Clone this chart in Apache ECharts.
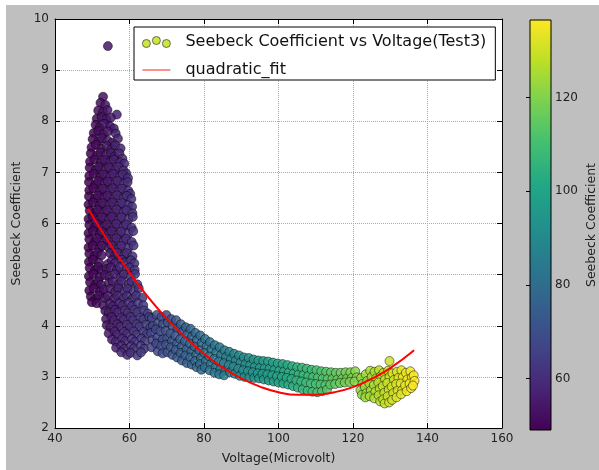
<!DOCTYPE html>
<html><head><meta charset="utf-8">
<script src="https://cdn.jsdelivr.net/npm/echarts@6/dist/echarts.min.js"></script>
<style>
html,body{margin:0;padding:0;background:#fff;}
#bg{position:absolute;left:6px;top:5px;width:593px;height:465px;background:#bfbfbf;}
#c{position:absolute;left:0;top:0;width:599px;height:470px;}
</style>
</head><body><div id="bg"></div><div id="c"></div>
<script>
// ---- data ----
const seriesScatterName = 'Seebeck Coefficient vs Voltage(Test3)';
const seriesFitName = 'quadratic_fit';
const xAxisTitle = 'Voltage(Microvolt)';
const yAxisTitle = 'Seebeck Coefficient';
const colorbarTitle = 'Seebeck Coefficient';
const colorbarRange = [49, 136.6];

// left (low-voltage) dense cluster: [voltage, seebeck]
const leftCluster = [
[54.2,9.47],
[52.9,8.48],[52.2,8.36],[53.5,8.32],[51.6,8.21],[52.9,8.18],[54.1,8.22],[56.6,8.13],
[51.2,8.05],[52.5,8.08],[53.8,8.04],[55.0,8.07],
[50.9,7.93],[52.0,7.88],[53.3,7.95],[54.8,7.90],[55.8,7.86],
[50.4,7.77],[51.6,7.81],[53.0,7.75],[54.2,7.80],[56.3,7.76],
[50.1,7.65],[51.7,7.61],[52.6,7.67],[54.2,7.62],[55.4,7.58],[56.9,7.66],
[49.8,7.49],[51.0,7.54],[52.4,7.46],[53.9,7.52],[55.1,7.45],[56.2,7.53],[57.6,7.47],
[49.6,7.37],[51.2,7.33],[52.2,7.39],[53.7,7.34],[55.0,7.38],[56.0,7.31],[57.3,7.37],[58.1,7.27],
[49.4,7.21],[50.6,7.25],[52.3,7.19],[53.3,7.24],[54.8,7.20],[55.8,7.25],[57.4,7.19],[58.6,7.17],
[49.3,7.09],[50.9,7.05],[51.8,7.11],[53.5,7.06],[54.5,7.10],[56.1,7.05],[57.0,7.11],[58.4,7.04],[59.1,6.98],
[49.2,6.93],[50.4,6.97],[52.1,6.91],[53.0,6.96],[54.7,6.92],[55.6,6.97],[57.3,6.91],[58.2,6.96],[59.6,6.89],
[49.1,6.81],[50.8,6.77],[51.6,6.83],[53.3,6.78],[54.2,6.82],[55.9,6.77],[56.8,6.83],[58.5,6.78],[59.5,6.81],
[49.2,6.65],[50.3,6.69],[52.0,6.63],[52.9,6.68],[54.6,6.64],[55.5,6.69],[57.2,6.63],[58.1,6.68],[59.7,6.64],[60.2,6.58],
[49.1,6.53],[50.7,6.49],[51.5,6.55],[53.2,6.50],[54.1,6.54],[55.8,6.49],[56.7,6.55],[58.4,6.50],[59.3,6.54],[60.5,6.48],
[49.0,6.37],[50.2,6.41],[51.9,6.35],[52.8,6.40],[54.5,6.36],[55.4,6.41],[57.1,6.35],[58.0,6.40],[59.7,6.36],[60.7,6.33],
[49.3,6.25],[50.6,6.21],[51.4,6.27],[53.2,6.22],[54.0,6.26],[55.8,6.21],[56.6,6.27],[58.4,6.22],[59.2,6.26],[60.8,6.20],
[49.0,6.09],[50.1,6.13],[51.9,6.07],[52.7,6.12],[54.5,6.08],[55.3,6.13],[57.1,6.07],[57.9,6.12],[59.7,6.08],[60.9,6.13],
[49.2,5.97],[50.6,5.93],[51.3,5.99],[53.2,5.94],[53.9,5.98],[55.8,5.93],[56.5,5.99],[58.4,5.94],[59.1,5.98],[60.6,5.92],
[49.0,5.81],[50.2,5.85],[51.9,5.79],[52.6,5.84],[54.5,5.80],[55.2,5.85],[57.1,5.79],[57.8,5.84],[59.7,5.80],[61.0,5.85],
[49.2,5.69],[50.7,5.65],[51.3,5.71],[53.2,5.66],[53.9,5.70],[55.8,5.65],[56.5,5.71],[58.4,5.66],[59.1,5.70],[60.6,5.64],
[49.0,5.53],[50.1,5.57],[51.9,5.51],[52.6,5.56],[54.5,5.52],[55.2,5.57],[57.1,5.51],[57.8,5.56],[59.7,5.52],[61.1,5.57],
[49.2,5.41],[50.6,5.37],[51.4,5.43],[52.5,5.38],[54.8,5.42],[56.0,5.37],[56.7,5.43],[58.6,5.38],[59.3,5.42],[60.8,5.36],
[49.1,5.25],[50.2,5.29],[51.8,5.23],[54.2,5.21],[55.3,5.28],[56.2,5.23],[57.9,5.29],[58.8,5.24],[60.4,5.28],[61.3,5.22],
[49.3,5.13],[50.8,5.09],[51.6,5.15],[52.6,5.08],[53.8,5.11],[55.0,5.14],[56.6,5.09],[57.4,5.15],[59.2,5.10],[60.0,5.14],[61.4,5.09],
[49.1,4.97],[50.3,5.01],[52.0,4.95],[53.4,4.99],[54.6,4.96],[56.0,5.01],[57.7,4.95],[58.5,5.00],[60.3,4.96],[61.5,5.01],
[49.4,4.85],[50.8,4.81],[51.6,4.87],[52.4,4.80],[54.5,4.84],[55.5,4.86],[57.1,4.81],[57.9,4.87],[59.8,4.82],[60.6,4.86],[62.1,4.81],
[49.2,4.69],[50.4,4.73],[52.1,4.67],[53.1,4.71],[54.8,4.72],[56.2,4.67],[57.0,4.73],[58.7,4.68],[59.5,4.72],[61.2,4.67],[62.5,4.73],
[49.6,4.57],[51.0,4.53],[51.8,4.59],[53.4,4.54],[54.2,4.58],[55.9,4.53],[56.7,4.59],[58.4,4.54],[59.3,4.58],[60.9,4.53],[61.8,4.59],[63.5,4.55],
[49.9,4.46],[51.2,4.44],[53.0,4.40],[54.8,4.43],[55.6,4.39],[57.3,4.44],[58.1,4.40],[59.8,4.45],[60.7,4.39],[62.3,4.44],[63.7,4.40],
[53.5,4.29],[54.4,4.25],[56.1,4.31],[56.9,4.26],[58.7,4.30],[59.5,4.25],[61.3,4.31],[62.1,4.26],[63.9,4.30],[64.9,4.24],
[53.7,4.13],[55.2,4.17],[55.9,4.11],[57.7,4.16],[58.5,4.12],[60.3,4.17],[61.0,4.11],[62.9,4.16],[63.7,4.12],[65.3,4.17],
[53.9,4.01],[54.9,3.97],[56.7,4.03],[57.5,3.98],[59.3,4.02],[60.1,3.97],[61.9,4.03],[62.7,3.98],[64.5,4.02],[65.6,3.97],
[54.4,3.85],[56.0,3.89],[56.7,3.83],[58.5,3.88],[59.3,3.84],[61.1,3.89],[61.9,3.83],[63.7,3.88],[64.7,3.84],
[55.3,3.73],[56.3,3.69],[58.0,3.75],[58.8,3.70],[60.6,3.74],[61.4,3.69],[63.2,3.75],[64.1,3.70],
[56.4,3.57],[57.8,3.61],[58.6,3.55],[60.4,3.60],[61.2,3.56],[63.0,3.61],[63.9,3.55],
[57.8,3.48],[59.4,3.43],[60.3,3.47],[62.1,3.42],[63.1,3.48]
];

// descending tail band
const tailBand = [
[66.0,4.15],[66.3,4.00],[65.8,3.86],[66.2,3.72],[65.9,3.58],
[67.3,4.21],[67.7,4.06],[67.1,3.93],[67.5,3.77],[67.2,3.65],[67.6,3.50],
[68.6,4.17],[69.0,4.03],[68.3,3.89],[68.9,3.73],[68.5,3.61],[68.9,3.46],
[69.9,4.21],[70.3,4.06],[69.7,3.90],[70.1,3.75],[69.8,3.63],[70.2,3.48],
[71.2,4.13],[71.6,3.99],[71.0,3.85],[71.4,3.70],[71.1,3.58],[71.5,3.43],
[72.5,4.11],[72.9,3.95],[72.3,3.81],[72.7,3.65],[72.4,3.53],[72.8,3.38],
[73.8,4.03],[74.2,3.88],[73.6,3.74],[74.0,3.59],[73.7,3.47],[74.1,3.32],
[75.1,3.97],[75.5,3.83],[74.9,3.70],[75.3,3.54],[75.0,3.42],[75.4,3.27],
[76.4,3.94],[76.8,3.79],[76.2,3.65],[76.6,3.50],[76.3,3.38],[76.7,3.24],
[77.7,3.86],[78.1,3.72],[77.5,3.59],[77.9,3.43],[77.6,3.31],[78.0,3.19],
[79.0,3.81],[79.4,3.66],[78.8,3.52],[79.2,3.37],[78.9,3.25],[79.3,3.14],
[80.3,3.74],[80.7,3.60],[80.1,3.47],[80.5,3.31],[80.2,3.19],
[81.6,3.68],[82.0,3.54],[81.4,3.40],[81.8,3.25],[81.5,3.13],
[82.9,3.62],[83.3,3.48],[82.7,3.35],[83.1,3.19],[82.8,3.08],
[84.2,3.58],[84.6,3.43],[84.0,3.30],[84.4,3.15],[84.1,3.05],
[85.5,3.52],[85.9,3.39],[85.3,3.27],[85.7,3.12],[85.4,3.03],
[86.8,3.49],[87.2,3.35],[86.6,3.23],[87.0,3.09],
[88.1,3.45],[88.5,3.32],[87.9,3.20],[88.3,3.06],
[89.4,3.42],[89.8,3.28],[89.2,3.16],[89.6,3.02],
[90.7,3.38],[91.1,3.25],[90.5,3.13],[90.9,3.00],
[92.0,3.37],[92.4,3.23],[91.8,3.11],[92.2,2.99],
[93.3,3.34],[93.7,3.20],[93.1,3.09],[93.5,2.98],
[94.6,3.32],[95.0,3.18],[94.4,3.07],[94.8,2.97],
[95.9,3.31],[96.3,3.17],[95.7,3.06],[96.1,2.95],
[97.2,3.30],[97.6,3.16],[97.0,3.05],[97.4,2.93],
[98.5,3.28],[98.9,3.14],[98.3,3.03],[98.7,2.91],
[99.8,3.26],[100.2,3.12],[99.6,3.01],[100.0,2.89],
[101.1,3.25],[101.5,3.11],[100.9,3.00],[101.3,2.87],
[102.4,3.23],[102.8,3.09],[102.2,2.98],[102.6,2.85],
[103.7,3.21],[104.1,3.07],[103.5,2.96],[103.9,2.82],
[105.0,3.19],[105.4,3.05],[104.8,2.93],[105.2,2.79],
[106.3,3.18],[106.7,3.04],[106.1,2.91],[106.5,2.76],
[107.6,3.16],[108.0,3.02],[107.4,2.89],[107.8,2.73],
[108.9,3.14],[109.3,3.00],[108.7,2.87],[109.1,2.71],
[110.2,3.13],[110.6,2.99],[110.0,2.86],[110.4,2.70],
[111.5,3.11],[111.9,2.97],[111.3,2.85],[111.7,2.72],
[112.8,3.10],[113.2,2.96],[112.6,2.84],[113.0,2.75],
[114.1,3.09],[114.5,2.96],[113.9,2.85],
[115.4,3.08],[115.8,2.95],[115.2,2.86],
[116.7,3.08],[117.1,2.96],[116.5,2.88],
[118.0,3.09],[118.4,2.97],[117.8,2.89],
[119.3,3.09],[119.7,2.98],[119.1,2.90],
[120.6,3.11],[121.0,2.99],[120.4,2.91]
];

// high-voltage cluster
const rightCluster = [
[122.2,2.98],[122.5,2.86],[122.0,2.74],[122.4,2.65],
[123.4,3.05],[123.8,2.92],[123.2,2.80],[123.6,2.68],[123.3,2.60],
[124.6,3.12],[125.0,3.00],[124.4,2.87],[124.8,2.74],[124.5,2.62],
[125.8,3.10],[126.2,2.97],[125.6,2.84],[126.0,2.71],[125.7,2.58],
[127.0,3.13],[127.4,3.01],[126.8,2.89],[127.2,2.77],[126.9,2.64],[127.3,2.52],
[128.2,3.08],[128.6,2.95],[128.0,2.82],[128.4,2.69],[128.1,2.56],[128.5,2.48],
[129.4,3.12],[129.8,3.00],[129.2,2.88],[129.6,2.75],[129.3,2.62],[129.7,2.50],
[129.8,3.31],
[130.6,3.07],[131.0,2.94],[130.4,2.81],[130.8,2.68],[130.5,2.55],
[131.8,3.10],[132.2,2.98],[131.6,2.86],[132.0,2.73],[131.7,2.60],
[133.0,3.13],[133.4,3.00],[132.8,2.87],[133.2,2.74],[132.9,2.66],
[134.2,3.08],[134.6,2.95],[134.0,2.83],[134.4,2.72],
[135.4,3.11],[135.8,2.99],[135.2,2.87],[135.6,2.78],
[136.3,3.03],[136.5,2.92],[136.1,2.83]
];

// quadratic fit curve
const fitX = [48.9, 55, 60, 65, 70, 75, 80, 85, 90, 95, 100, 105, 110, 115, 120, 125, 130, 136.4];
const fitY = [6.29, 5.57, 5.04, 4.56, 4.14, 3.77, 3.45, 3.18, 2.97, 2.81, 2.70, 2.65, 2.65, 2.70, 2.80, 2.96, 3.17, 3.52];

const viridis = ['#440154','#482475','#414487','#355f8d','#2a788e','#21918c','#22a884','#44bf70','#7ad151','#bddf26','#fde725'];

// ---- chart ----
const FONT = 'DejaVu Sans';
const chart = echarts.init(document.getElementById('c'), null, {width: 599, height: 470, renderer: 'canvas'});
const scatterData = leftCluster.concat(tailBand, rightCluster);
const fitData = fitX.map((x, i) => [x, fitY[i]]);

const axisCommon = {
  axisLine: {show: true, onZero: false, lineStyle: {color: '#000', width: 1}},
  axisTick: {show: true, inside: true, length: 5, lineStyle: {color: '#000'}},
  axisLabel: {color: '#222', fontSize: 12, fontFamily: FONT},
  nameTextStyle: {color: '#222', fontSize: 12.5, fontFamily: FONT}
};

chart.setOption({
  animation: false,
  backgroundColor: 'transparent',
  textStyle: {fontFamily: FONT},
  grid: [
    {left: 55, top: 19, right: 97, bottom: 41, show: true, backgroundColor: '#fff', borderWidth: 0},
    {left: 530, top: 20, width: 22, height: 410, show: false}
  ],
  legend: {
    left: 134, top: 27, orient: 'vertical',
    padding: [5, 9, 0, 8], itemGap: 8, itemWidth: 28, itemHeight: 12,
    backgroundColor: '#fff', borderColor: '#000', borderWidth: 1, borderRadius: 0,
    textStyle: {fontSize: 16, color: '#111', fontFamily: FONT, lineHeight: 20, padding: [0, 0, 0, 10]},
    data: [
      {name: seriesScatterName,
       icon: 'path://M0,7a4,4 0 1,0 8,0a4,4 0 1,0 -8,0M10,4a4,4 0 1,0 8,0a4,4 0 1,0 -8,0M20,7a4,4 0 1,0 8,0a4,4 0 1,0 -8,0',
       itemStyle: {color: '#c6e021', borderColor: '#333', borderWidth: 0.8}},
      {name: seriesFitName, icon: 'path://M0,0H28V1.2H0Z',
       itemStyle: {color: '#f44', borderWidth: 0}}
    ]
  },
  visualMap: {
    type: 'continuous', show: false, seriesIndex: 0, dimension: 0,
    min: colorbarRange[0], max: colorbarRange[1],
    inRange: {color: viridis}
  },
  xAxis: [
    Object.assign({}, axisCommon, {
      gridIndex: 0, type: 'value', min: 40, max: 160, interval: 20, position: 'bottom',
      name: xAxisTitle, nameLocation: 'middle', nameGap: 24,
      axisLabel: Object.assign({}, axisCommon.axisLabel, {margin: 5}),
      splitLine: {show: true, lineStyle: {color: '#aaa', type: 'dotted', width: 1}}
    }),
    Object.assign({}, axisCommon, {
      gridIndex: 0, type: 'value', min: 40, max: 160, interval: 20, position: 'top',
      axisLabel: {show: false}, splitLine: {show: false}
    }),
    {gridIndex: 1, type: 'value', min: 0, max: 1, show: false}
  ],
  yAxis: [
    Object.assign({}, axisCommon, {
      gridIndex: 0, type: 'value', min: 2, max: 10, interval: 1, position: 'left',
      name: yAxisTitle, nameLocation: 'middle', nameGap: 29, nameRotate: 90,
      axisLabel: Object.assign({}, axisCommon.axisLabel, {margin: 6}),
      splitLine: {show: true, lineStyle: {color: '#aaa', type: 'dotted', width: 1}}
    }),
    Object.assign({}, axisCommon, {
      gridIndex: 0, type: 'value', min: 2, max: 10, interval: 1, position: 'right',
      axisLabel: {show: false}, splitLine: {show: false}
    }),
    Object.assign({}, axisCommon, {
      gridIndex: 1, type: 'value', min: colorbarRange[0], max: colorbarRange[1], position: 'right',
      name: colorbarTitle, nameLocation: 'middle', nameGap: 34, nameRotate: 90,
      axisLine: {show: false},
      axisTick: {show: true, inside: true, length: 4, lineStyle: {color: '#000'}},
      axisLabel: Object.assign({}, axisCommon.axisLabel, {margin: 4, showMinLabel: false, showMaxLabel: false}),
      splitLine: {show: false}
    })
  ],
  series: [
    {
      name: seriesScatterName, type: 'scatter', xAxisIndex: 0, yAxisIndex: 0,
      symbol: 'circle', symbolSize: 9, z: 2,
      itemStyle: {borderColor: 'rgba(0,0,0,0.8)', borderWidth: 0.7, opacity: 0.85},
      data: scatterData
    },
    {
      name: seriesFitName, type: 'line', xAxisIndex: 0, yAxisIndex: 0,
      symbol: 'none', smooth: true, z: 3,
      lineStyle: {color: '#f00', width: 2},
      itemStyle: {color: '#f00'},
      data: fitData
    },
    {
      name: 'colorbar', type: 'custom', xAxisIndex: 2, yAxisIndex: 2, z: 1, silent: true,
      data: [[0, colorbarRange[0], 1, colorbarRange[1]]],
      renderItem: function (params, api) {
        const p0 = api.coord([api.value(0), api.value(1)]);
        const p1 = api.coord([api.value(2), api.value(3)]);
        const stops = viridis.map((c, i) => ({offset: i / (viridis.length - 1), color: c}));
        return {
          type: 'rect',
          shape: {x: p0[0], y: p1[1], width: p1[0] - p0[0], height: p0[1] - p1[1]},
          style: {
            fill: new echarts.graphic.LinearGradient(0, 1, 0, 0, stops),
            stroke: '#000', lineWidth: 1
          }
        };
      }
    }
  ]
});
</script>
</body></html>
